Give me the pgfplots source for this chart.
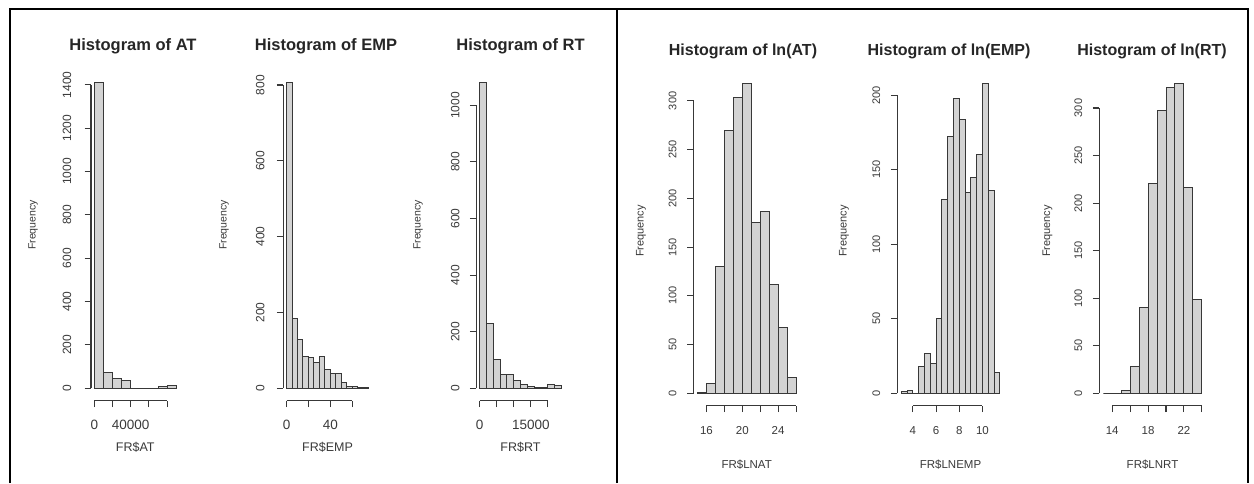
\documentclass[border=0pt]{standalone}
\usepackage{pgfplots}
\pgfplotsset{compat=1.18}
\usepackage{fontspec}
\setmainfont{Liberation Sans}
\definecolor{histfill}{HTML}{D3D3D3}
\definecolor{axcol}{HTML}{383838}
\definecolor{txtcol}{HTML}{3A3A3A}
\definecolor{ttlcol}{HTML}{262626}
\pgfplotsset{
 rh/.style={
  scale only axis, anchor=south west, clip=false,
  axis x line*=bottom, axis y line*=left,
  axis line style={draw=none},
  tick align=outside, major tick length=6.5pt,
  tick style={draw=axcol, line width=1.1pt},
  xticklabels={}, yticklabels={}, scaled ticks=false,
 },
 rhL/.style={rh, width=88.5pt, height=330pt},
 rhR/.style={rh, width=106.5pt, height=334.8pt},
 bars/.style={ybar interval, fill=histfill, draw=axcol, line width=1pt},
}
\tikzset{
 ttlL/.style={font=\fontsize{16.5}{18}\selectfont\bfseries, text=ttlcol},
 ttlR/.style={font=\fontsize{16}{18}\selectfont\bfseries, text=ttlcol},
 ytL/.style={rotate=90, anchor=center, font=\fontsize{12}{13}\selectfont, text=txtcol},
 ytR/.style={rotate=90, anchor=center, font=\fontsize{11}{12}\selectfont, text=txtcol},
 xtL/.style={anchor=center, font=\fontsize{13.5}{14}\selectfont, text=txtcol},
 xtR/.style={anchor=center, font=\fontsize{11.5}{12}\selectfont, text=txtcol},
 frL/.style={rotate=90, anchor=center, font=\fontsize{10.5}{11}\selectfont, text=txtcol},
 frR/.style={rotate=90, anchor=center, font=\fontsize{11}{12}\selectfont, text=txtcol},
 xlL/.style={anchor=center, font=\fontsize{12.5}{13}\selectfont, text=txtcol},
 xlR/.style={anchor=center, font=\fontsize{11.5}{12}\selectfont, text=txtcol},
 axl/.style={draw=axcol, line width=1.1pt},
}
\begin{document}
\begin{tikzpicture}
\useasboundingbox (0,0) rectangle (1254pt,483pt);
\fill[white] (0,0) rectangle (1254pt,483pt);

% ---------- AT ----------
\begin{axis}[rhL, at={(91pt,82.5pt)}, xmin=-3600, xmax=93600, ymin=-56.4, ymax=1466.4,
  xtick={0,20000,40000,60000,80000}, ytick={0,200,...,1400}]
\addplot[bars] coordinates {(0,1410) (10000,72) (20000,43) (30000,38) (40000,0) (50000,0) (60000,0) (70000,6) (80000,12) (90000,0)};
\draw[axl] (axis cs:0,-56.4) -- (axis cs:80000,-56.4);
\draw[axl] (axis cs:-3600,0) -- (axis cs:-3600,1400);
\pgfplotsinvokeforeach{0,200,400,600,800,1000,1200,1400}{\node[ytL] at ([xshift=-24pt]axis cs:-3600,#1) {#1};}
\node[xtL] at ([yshift=-24.5pt]axis cs:0,-56.4) {0};
\node[xtL] at ([yshift=-24.5pt]axis cs:40000,-56.4) {40000};
\end{axis}

% ---------- EMP ----------
\begin{axis}[rhL, at={(283.3pt,82.5pt)}, xmin=-3, xmax=78, ymin=-32.24, ymax=838.24,
  xtick={0,20,40,60}, ytick={0,200,400,600,800}]
\addplot[bars] coordinates {(0,806) (5,185) (10,128) (15,84) (20,82) (25,68) (30,84) (35,50) (40,38) (45,38) (50,15) (55,4) (60,6) (65,3) (70,1) (75,0)};
\draw[axl] (axis cs:0,-32.24) -- (axis cs:60,-32.24);
\draw[axl] (axis cs:-3,0) -- (axis cs:-3,800);
\pgfplotsinvokeforeach{0,200,400,600,800}{\node[ytL] at ([xshift=-23pt]axis cs:-3,#1) {#1};}
\node[xtL] at ([yshift=-24.5pt]axis cs:0,-32.24) {0};
\node[xtL] at ([yshift=-24.5pt]axis cs:40,-32.24) {40};
\end{axis}

% ---------- RT ----------
\begin{axis}[rhL, at={(476.3pt,82.5pt)}, xmin=-960, xmax=24960, ymin=-43.2, ymax=1123.2,
  xtick={0,5000,10000,15000,20000}, ytick={0,200,400,600,800,1000}]
\addplot[bars] coordinates {(0,1080) (2000,230) (4000,100) (6000,47) (8000,47) (10000,29) (12000,14) (14000,8) (16000,4) (18000,4) (20000,14) (22000,9) (24000,0)};
\draw[axl] (axis cs:0,-43.2) -- (axis cs:20000,-43.2);
\draw[axl] (axis cs:-960,0) -- (axis cs:-960,1000);
\pgfplotsinvokeforeach{0,200,400,600,800,1000}{\node[ytL] at ([xshift=-21pt]axis cs:-960,#1) {#1};}
\node[xtL] at ([yshift=-24.5pt]axis cs:0,-43.2) {0};
\node[xtL] at ([yshift=-24.5pt]axis cs:15000,-43.2) {15000};
\end{axis}

% ---------- ln(AT) ----------
\begin{axis}[rhR, at={(693.5pt,77.3pt)}, xmin=14.56, xmax=26.44, ymin=-12.72, ymax=330.72,
  xtick={16,18,20,22,24,26}, ytick={0,50,100,150,200,250,300}]
\addplot[bars] coordinates {(15,1) (16,10) (17,130) (18,270) (19,303) (20,318) (21,175) (22,187) (23,112) (24,68) (25,16) (26,0)};
\draw[axl] (axis cs:16,-12.72) -- (axis cs:26,-12.72);
\draw[axl] (axis cs:14.56,0) -- (axis cs:14.56,300);
\pgfplotsinvokeforeach{0,50,100,150,200,250,300}{\node[ytR] at ([xshift=-21pt]axis cs:14.56,#1) {#1};}
\node[xtR] at ([yshift=-24.5pt]axis cs:16,-12.72) {16};
\node[xtR] at ([yshift=-24.5pt]axis cs:20,-12.72) {20};
\node[xtR] at ([yshift=-24.5pt]axis cs:24,-12.72) {24};
\end{axis}

% ---------- ln(EMP) ----------
\begin{axis}[rhR, at={(897.3pt,77.3pt)}, xmin=2.66, xmax=11.84, ymin=-8.32, ymax=216.32,
  xtick={4,6,8,10}, ytick={0,50,100,150,200}]
\addplot[bars] coordinates {(3,1) (3.5,2) (4,0) (4.5,18) (5,27) (5.5,20) (6,50) (6.5,130) (7,172) (7.5,198) (8,184) (8.5,135) (9,145) (9.5,160) (10,208) (10.5,136) (11,14) (11.5,0)};
\draw[axl] (axis cs:4,-8.32) -- (axis cs:10,-8.32);
\draw[axl] (axis cs:2.66,0) -- (axis cs:2.66,200);
\pgfplotsinvokeforeach{0,50,100,150,200}{\node[ytR] at ([xshift=-21pt]axis cs:2.66,#1) {#1};}
\pgfplotsinvokeforeach{4,6,8,10}{\node[xtR] at ([yshift=-24.5pt]axis cs:#1,-8.32) {#1};}
\end{axis}

% ---------- ln(RT) ----------
\begin{axis}[rhR, at={(1099.3pt,77.3pt)}, xmin=12.56, xmax=24.44, ymin=-13.04, ymax=339.04,
  xtick={14,16,18,20,22,24}, ytick={0,50,100,150,200,250,300}]
\addplot[bars] coordinates {(13,0) (14,0) (15,3) (16,28) (17,90) (18,221) (19,297) (20,322) (21,326) (22,216) (23,99) (24,0)};
\draw[axl] (axis cs:14,-13.04) -- (axis cs:24,-13.04);
\draw[axl] (axis cs:12.56,0) -- (axis cs:12.56,300);
\pgfplotsinvokeforeach{0,50,100,150,200,250,300}{\node[ytR] at ([xshift=-21pt]axis cs:12.56,#1) {#1};}
\node[xtR] at ([yshift=-24.5pt]axis cs:14,-13.04) {14};
\node[xtR] at ([yshift=-24.5pt]axis cs:18,-13.04) {18};
\node[xtR] at ([yshift=-24.5pt]axis cs:22,-13.04) {22};
\end{axis}

% ---------- titles and labels ----------
\node[ttlL] at (133pt,436.5pt) {Histogram of AT};
\node[ttlL] at (326pt,436.5pt) {Histogram of EMP};
\node[ttlL] at (520.5pt,436.5pt) {Histogram of RT};
\node[ttlR] at (743pt,431.5pt) {Histogram of ln(AT)};
\node[ttlR] at (949pt,431.5pt) {Histogram of ln(EMP)};
\node[ttlR] at (1152pt,431.5pt) {Histogram of ln(RT)};

\node[frL] at (33pt,258pt) {Frequency};
\node[frL] at (224pt,258pt) {Frequency};
\node[frL] at (418pt,258pt) {Frequency};
\node[frR] at (641pt,252pt) {Frequency};
\node[frR] at (844pt,252pt) {Frequency};
\node[frR] at (1047.5pt,252pt) {Frequency};

\node[xlL] at (135.3pt,36pt) {FR\$AT};
\node[xlL] at (327.5pt,36pt) {FR\$EMP};
\node[xlL] at (520.5pt,36pt) {FR\$RT};
\node[xlR] at (746.7pt,18pt) {FR\$LNAT};
\node[xlR] at (950.5pt,18pt) {FR\$LNEMP};
\node[xlR] at (1152.5pt,18pt) {FR\$LNRT};

% ---------- table borders ----------
\draw[black, line width=2pt] (10pt,0) -- (10pt,473.8pt) -- (1248.4pt,473.8pt) -- (1248.4pt,0);
\draw[black, line width=2pt] (616.7pt,0) -- (616.7pt,473.8pt);
\end{tikzpicture}
\end{document}
